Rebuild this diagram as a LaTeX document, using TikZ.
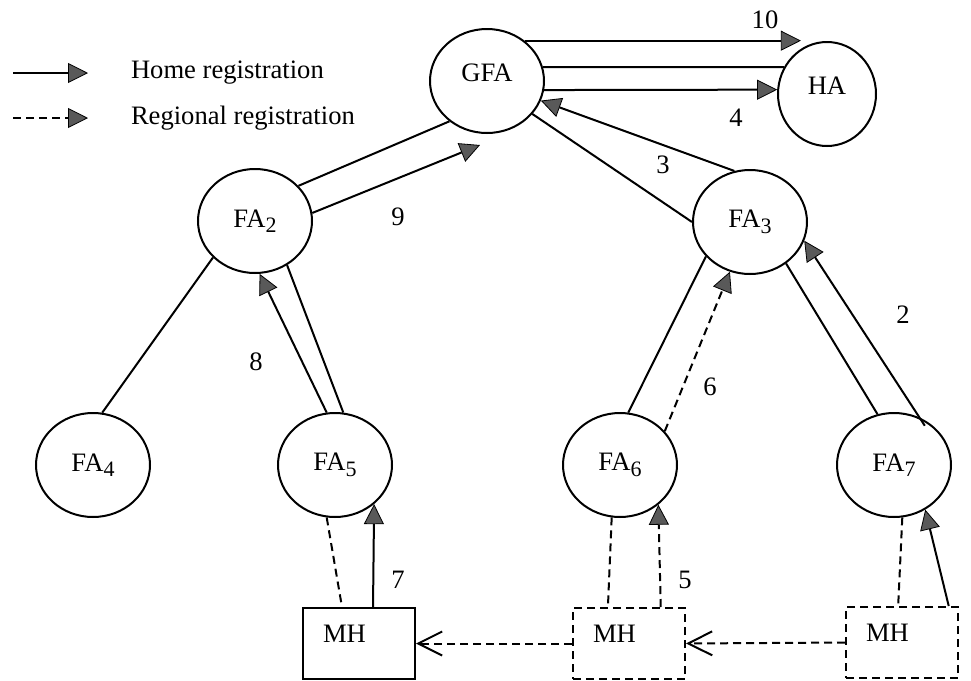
\documentclass[tikz,border=0pt]{standalone}
\usepackage{fontspec}
\setmainfont{Liberation Serif}
\usepackage{tikz}
\usetikzlibrary{shapes}
\usetikzlibrary{arrows.meta}
\tikzstyle{fanode}=[ellipse, draw, minimum width=57pt, minimum height=52pt, inner sep=0pt]
\tikzstyle{mhbox}=[rectangle, draw, anchor=north west, minimum width=56pt, minimum height=35.5pt, text width=36pt, inner xsep=10pt, inner ysep=8pt, text height=9pt, text depth=10.5pt, align=left]
\tikzstyle{lbl}=[inner sep=0pt]
\tikzstyle{regline}=[dash pattern=on 4pt off 2.5pt]
\tikzstyle{homearrow}=[-{Triangle[length=10pt,width=10pt,fill=black!65,line width=0.4pt]}]
\tikzstyle{regarrow}=[homearrow, regline]
\tikzstyle{movearrow}=[regline, -{Straight Barb[length=12pt,width=12pt]}]
\tikzset{every picture/.style={
    line width=1pt
  }
}
\newcommand{\fa}[1]{FA\raisebox{-0.45ex}{\fontsize{11}{11}\selectfont #1}}

\begin{document}
\begin{tikzpicture}[x=0.5pt, y=-0.5pt, font=\fontsize{13.3}{16}\selectfont]
      \useasboundingbox (0,0) rectangle (971,681);
      % legend
      \coordinate (h1) at (13,73);
      \coordinate (h2) at (88,73);
      \coordinate (r1) at (13,118);
      \coordinate (r2) at (88,118);
      \draw[homearrow] (h1) -- (h2);
      \draw[regarrow] (r1) -- (r2);
      \node[lbl, anchor=west] at (130,73) (homelbl) {Home registration};
      \node[lbl, anchor=west] at (130,118) (reglbl) {Regional registration};
      % agents
      \node[fanode, text depth=8pt] at (487,81) (gfa) {GFA};
      \node[fanode, minimum width=49pt, text depth=8pt] at (827,94) (ha) {HA};
      \node[fanode] at (255,221) (fa2) {\fa{2}};
      \node[fanode] at (750,222) (fa3) {\fa{3}};
      \node[fanode] at (93,465) (fa4) {\fa{4}};
      \node[fanode] at (335,465) (fa5) {\fa{5}};
      \node[fanode] at (620,465) (fa6) {\fa{6}};
      \node[fanode] at (894,465) (fa7) {\fa{7}};
      % mobile host positions
      \node[mhbox] at (302,607) (mh1) {MH};
      \node[mhbox, regline] at (572,607) (mh2) {MH};
      \node[mhbox, regline] at (845,606) (mh3) {MH};
      \coordinate (t9) at (480,145);
      % GFA - HA
      \draw[homearrow] (gfa.47) -- (gfa.47 -| ha.120);
      \draw (gfa.14) -- (ha.148);
      \draw[homearrow] (gfa.-9) -- (ha.175);
      % upper level
      \draw[homearrow] (fa3.107) -- (gfa.-20);
      \draw (gfa.-36) -- (fa3.west);
      \draw (fa2.39) -- (gfa.-133);
      \draw[homearrow] (fa2.8) -- (t9);
      % middle level
      \draw (fa2.-139) -- (fa4.80);
      \draw[homearrow] (fa5.99) -- (fa2.-85);
      \draw (fa2.-54) -- (fa5.81);
      \draw (fa6.81) -- (fa3.-142);
      \draw[regarrow] (fa6.37) -- (fa3.-112);
      \draw (fa3.-49) -- (fa7.108);
      \draw[homearrow, shorten <=-5pt] (fa7.62) -- (fa3.-19);
      % lower level
      \draw[regline] (fa5.-99) -- (mh1.115);
      \draw[homearrow] (mh1.69) -- (fa5.-45);
      \draw[regline] (fa6.-99) -- (mh2.120);
      \draw[regarrow] (mh2.49) -- (fa6.-46);
      \draw[regline] (fa7.-81) -- (mh3.96);
      \draw[homearrow] (mh3.38) -- (fa7.-55);
      \draw[movearrow] (mh2.west) -- (mh1.east);
      \draw[movearrow] (mh3.west) -- (mh2.east);
      % step numbers
      \node[lbl] at (903,315) (n2) {2};
      \node[lbl] at (663,165) (n3) {3};
      \node[lbl] at (736,118) (n4) {4};
      \node[lbl] at (685,580) (n5) {5};
      \node[lbl] at (710,387) (n6) {6};
      \node[lbl] at (398,580) (n7) {7};
      \node[lbl] at (256,362) (n8) {8};
      \node[lbl] at (398,217) (n9) {9};
      \node[lbl] at (765,20) (n10) {10};
\end{tikzpicture}
\end{document}
